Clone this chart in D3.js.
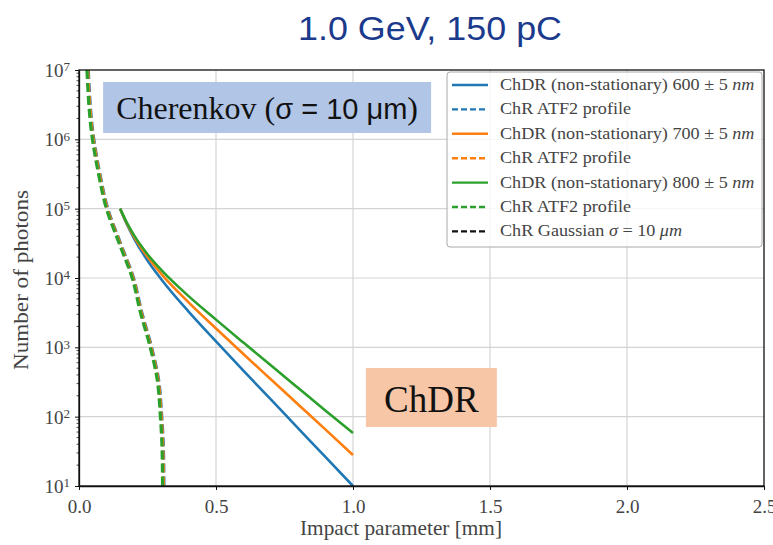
<!DOCTYPE html>
<html>
<head>
<meta charset="utf-8">
<script src="https://cdn.jsdelivr.net/npm/d3@7"></script>
<style>
  body { margin: 0; background: #fff; }
  svg { display: block; }
</style>
</head>
<body>
<div class="chart"></div>
<script>
var svgWidth = 773;
var svgHeight = 545;

var margin = { top: 70, right: 9, bottom: 59, left: 79 };
var width = svgWidth - margin.left - margin.right;
var height = svgHeight - margin.top - margin.bottom;

// ---------------- data ----------------
var chdrX = [0.15, 0.175, 0.2, 0.25, 0.3, 0.4, 0.5, 0.6, 0.7, 0.8, 0.9, 1.0];
var chdr600 = [100000, 59200, 37700, 17900, 9620, 3280, 1220, 462, 177, 68, 26, 10];
var chdr700 = [100000, 61000, 40000, 20200, 11500, 4450, 1870, 800, 346, 150, 65, 28];
var chdr800 = [100000, 62200, 41800, 22000, 13100, 5480, 2510, 1170, 550, 259, 122, 58];

var atfN = [1e7, 1e6, 320000, 100000, 32000, 10000, 3200, 1000, 350, 100, 36, 10];
var atfX600 = [0.034, 0.054, 0.076, 0.105, 0.151, 0.199, 0.229, 0.265, 0.290, 0.302, 0.308, 0.310];
var atfX700 = [0.032, 0.052, 0.074, 0.103, 0.149, 0.197, 0.227, 0.263, 0.288, 0.300, 0.306, 0.308];
var atfX800 = [0.029, 0.049, 0.071, 0.100, 0.146, 0.194, 0.224, 0.260, 0.285, 0.297, 0.303, 0.305];

var xTicks = [0.0, 0.5, 1.0, 1.5, 2.0, 2.5];
var yTickExp = [1, 2, 3, 4, 5, 6, 7];

// legend rows: [plain text, italic math part, ...]
var legendLabels = [
  ["ChDR (non-stationary) 600 ± 5 ", "nm"],
  ["ChR ATF2 profile", ""],
  ["ChDR (non-stationary) 700 ± 5 ", "nm"],
  ["ChR ATF2 profile", ""],
  ["ChDR (non-stationary) 800 ± 5 ", "nm"],
  ["ChR ATF2 profile", ""],
  ["ChR Gaussian ", "σ", " = 10 ", "μm"]
];
var blue = "#1f77b4", orange = "#ff7f0e", green = "#2ca02c";

var svg = d3.select(".chart").append("svg")
  .attr("width", svgWidth)
  .attr("height", svgHeight);

var serif = "'Liberation Serif', 'Times New Roman', serif";
var sans = "'Liberation Sans', Arial, sans-serif";

// title
svg.append("text")
  .attr("x", 430).attr("y", 40)
  .attr("text-anchor", "middle")
  .attr("textLength", 264).attr("lengthAdjust", "spacingAndGlyphs")
  .style("font-family", sans)
  .style("font-size", "33px")
  .style("fill", "#1b3a8c")
  .text("1.0 GeV, 150 pC");

var chartGroup = svg.append("g")
  .attr("transform", `translate(${margin.left}, ${margin.top})`);

var xLinearScale = d3.scaleLinear().domain([0, 2.5]).range([0, width]);
var yLogScale = d3.scaleLog().domain([10, 1e7]).range([height, 0]);

// grid
chartGroup.append("g").selectAll("line")
  .data(xTicks.slice(1, -1)).enter().append("line")
  .attr("x1", d => xLinearScale(d)).attr("x2", d => xLinearScale(d))
  .attr("y1", 0).attr("y2", height)
  .attr("stroke", "#d4d4d4").attr("stroke-width", 1.2);
chartGroup.append("g").selectAll("line")
  .data(yTickExp.slice(1, -1)).enter().append("line")
  .attr("x1", 0).attr("x2", width)
  .attr("y1", d => yLogScale(Math.pow(10, d))).attr("y2", d => yLogScale(Math.pow(10, d)))
  .attr("stroke", "#d4d4d4").attr("stroke-width", 1.2);

// annotation boxes
var cher = chartGroup.append("g");
cher.append("rect")
  .attr("x", xLinearScale(0.088)).attr("y", 12)
  .attr("width", xLinearScale(1.285) - xLinearScale(0.088)).attr("height", 51)
  .attr("fill", "#b1c5e6");
var cherText = cher.append("text")
  .attr("x", (xLinearScale(0.088) + xLinearScale(1.285)) / 2).attr("y", 49)
  .attr("text-anchor", "middle")
  .style("font-family", serif).style("font-size", "32px").style("fill", "#111");
cherText.append("tspan").text("Cherenkov (");
cherText.append("tspan").style("font-family", sans).style("font-size", "29px").text("σ = 10 μm");
cherText.append("tspan").text(")");

var chdrBox = chartGroup.append("g");
chdrBox.append("rect")
  .attr("x", xLinearScale(1.047)).attr("y", 298)
  .attr("width", xLinearScale(1.525) - xLinearScale(1.047)).attr("height", 59)
  .attr("fill", "#f6c6a6");
chdrBox.append("text")
  .attr("x", (xLinearScale(1.047) + xLinearScale(1.525)) / 2).attr("y", 342)
  .attr("text-anchor", "middle")
  .style("font-family", serif).style("font-size", "37px").style("fill", "#111")
  .text("ChDR");

// curves
var solidLine = d3.line()
  .x((d, i) => xLinearScale(chdrX[i]))
  .y(d => yLogScale(d))
  .curve(d3.curveMonotoneX);

[[chdr600, blue], [chdr700, orange], [chdr800, green]].forEach(function (s) {
  chartGroup.append("path")
    .datum(s[0])
    .attr("d", solidLine)
    .attr("fill", "none")
    .attr("stroke", s[1])
    .attr("stroke-width", 2.6);
});

[[atfX600, blue], [atfX700, orange], [atfX800, green]].forEach(function (s) {
  var xs = s[0];
  var dashLine = d3.line()
    .x((d, i) => xLinearScale(xs[i]))
    .y(d => yLogScale(d))
    .curve(d3.curveMonotoneY);
  chartGroup.append("path")
    .datum(atfN)
    .attr("d", dashLine)
    .attr("fill", "none")
    .attr("stroke", s[1])
    .attr("stroke-width", 3.2)
    .attr("stroke-dasharray", "9,4");
});

// axes
var bottomAxis = d3.axisBottom(xLinearScale)
  .tickValues(xTicks).tickFormat(d3.format(".1f"))
  .tickSize(4).tickSizeOuter(0);
var xAxis = chartGroup.append("g")
  .attr("transform", `translate(0, ${height})`)
  .call(bottomAxis);
xAxis.selectAll("text")
  .attr("dy", "1.05em")
  .style("font-family", serif).style("font-size", "19px").style("fill", "#444");

var minorTicks = [];
for (var e = 1; e < 7; e++) {
  for (var m = 2; m < 10; m++) minorTicks.push(m * Math.pow(10, e));
}
chartGroup.append("g").selectAll("line")
  .data(minorTicks).enter().append("line")
  .attr("x1", -2.5).attr("x2", 0)
  .attr("y1", d => yLogScale(d)).attr("y2", d => yLogScale(d))
  .attr("stroke", "#222").attr("stroke-width", 0.8);

var leftAxis = d3.axisLeft(yLogScale)
  .tickValues(yTickExp.map(d => Math.pow(10, d)))
  .tickFormat("")
  .tickSize(4).tickSizeOuter(0);
var yAxis = chartGroup.append("g").call(leftAxis);
yAxis.selectAll(".tick").each(function (d) {
  var t = d3.select(this).append("text")
    .attr("x", -9).attr("dy", "0.35em")
    .attr("text-anchor", "end")
    .style("font-family", serif).style("font-size", "19px").style("fill", "#444");
  t.append("tspan").text("10");
  t.append("tspan").attr("dy", "-0.45em").style("font-size", "13px").text(Math.round(Math.log10(d)));
});

chartGroup.selectAll(".domain").attr("stroke", "#111").attr("stroke-width", 1.3);
chartGroup.selectAll(".tick line").attr("stroke", "#111");

// frame (top and right spines)
chartGroup.append("rect")
  .attr("x", 0).attr("y", 0).attr("width", width).attr("height", height)
  .attr("fill", "none").attr("stroke", "#111").attr("stroke-width", 1.3);

// axis labels
svg.append("text")
  .attr("x", 401).attr("y", 535)
  .attr("text-anchor", "middle")
  .attr("textLength", 202).attr("lengthAdjust", "spacingAndGlyphs")
  .style("font-family", serif).style("font-size", "21px").style("fill", "#444")
  .text("Impact parameter [mm]");
svg.append("text")
  .attr("transform", "translate(28, 280) rotate(-90)")
  .attr("text-anchor", "middle")
  .attr("textLength", 180).attr("lengthAdjust", "spacingAndGlyphs")
  .style("font-family", serif).style("font-size", "21px").style("fill", "#444")
  .text("Number of photons");

// legend
var legend = svg.append("g").attr("transform", "translate(447, 72)");
legend.append("rect")
  .attr("width", 315).attr("height", 175).attr("rx", 3)
  .attr("fill", "#fff").attr("fill-opacity", 0.8)
  .attr("stroke", "#aaa").attr("stroke-width", 1);
var legendStyles = [
  [blue, null], [blue, "6,3"], [orange, null], [orange, "6,3"],
  [green, null], [green, "6,3"], ["#111", "6,3"]
];
legendLabels.forEach(function (parts, i) {
  var y = 13 + i * 24.4;
  legend.append("line")
    .attr("x1", 5).attr("x2", 41).attr("y1", y).attr("y2", y)
    .attr("stroke", legendStyles[i][0]).attr("stroke-width", 2.4)
    .attr("stroke-dasharray", legendStyles[i][1]);
  var t = legend.append("text")
    .attr("x", 53).attr("y", y + 5)
    .style("font-family", serif).style("font-size", "16.5px").style("fill", "#444");
  parts.forEach(function (p, j) {
    if (p) t.append("tspan").style("font-style", j % 2 ? "italic" : "normal").text(p);
  });
  // reference font (Computer Modern) runs wider than Times
  var natural = t.node().getComputedTextLength();
  t.attr("textLength", natural * 1.1).attr("lengthAdjust", "spacingAndGlyphs");
});
</script>
</body>
</html>
